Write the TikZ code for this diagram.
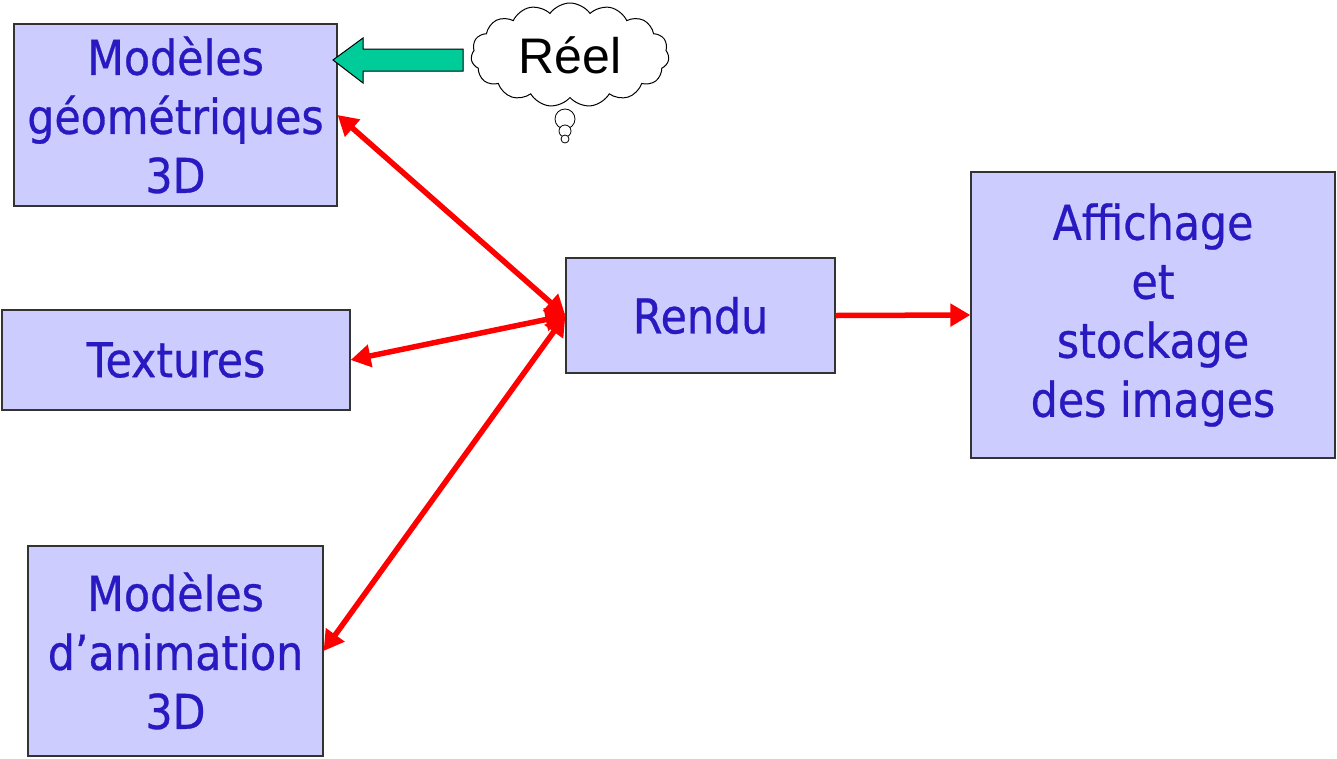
\documentclass[tikz,border=0pt]{standalone}
\usepackage{fontspec}
\setmainfont{DejaVu Sans}
\newfontfamily\boxfont[FakeStretch=0.89,FakeBold=0.6]{DejaVu Sans}
\newfontfamily\cloudfont{Liberation Sans}
\usetikzlibrary{arrows.meta,shapes.symbols}
\definecolor{boxfill}{RGB}{204,204,255}
\definecolor{boxtext}{RGB}{40,26,192}
\definecolor{greenarrow}{RGB}{0,204,153}
\tikzset{
  blk/.style={draw=black!80, line width=1.2pt, fill=boxfill, text=boxtext, inner sep=0pt,
    align=center, font=\boxfont\fontsize{48}{59}\selectfont},
  redline/.style={draw=red, line width=5.5pt},
}
\begin{document}
\begin{tikzpicture}[x=1pt,y=-1pt]
\useasboundingbox (0,0) rectangle (1337,758);
\node[blk, minimum width=323pt, minimum height=182pt] (geo) at (175.5,115) {Modèles\\géométriques\\3D};
\node[blk, minimum width=348pt, minimum height=100pt] (tex) at (176,360) {Textures};
\node[blk, minimum width=295pt, minimum height=210pt] (anim) at (175.5,651) {Modèles\\d’animation\\3D};
\node[blk, minimum width=269pt, minimum height=115pt] (rendu) at (700.5,315.5) {Rendu};
\node[blk, minimum width=364pt, minimum height=286pt] (aff) at (1153,315) {Affichage\\et\\stockage\\des images};
% cloud
\node[cloud, cloud puffs=15, cloud puff arc=110, aspect=2.1, draw=black, line width=1pt, fill=white,
  minimum width=198pt, minimum height=104pt, inner sep=0pt,
  font=\cloudfont\fontsize{50}{60}\selectfont] (reel) at (570,55) {Réel};
\draw[black, line width=0.8pt, fill=white] (565,119) circle (10);
\draw[black, line width=0.8pt, fill=white] (565,131) circle (6);
\draw[black, line width=0.8pt, fill=white] (565,139) circle (4);
% green block arrow
\draw[black, line width=1pt, fill=greenarrow, line join=miter]
  (463,49) -- (363,49) -- (363,38) -- (333,60) -- (363,83) -- (363,71) -- (463,71) -- cycle;
% red connectors
\draw[redline, {Triangle[length=20pt,width=22pt]}-{Triangle[length=20pt,width=22pt]}] (geo.east) -- (rendu.west);
\draw[redline, {Triangle[length=20pt,width=22pt]}-{Triangle[length=20pt,width=22pt]}] (tex.east) -- (rendu.west);
\draw[redline, {Triangle[length=20pt,width=22pt]}-{Triangle[length=20pt,width=22pt]}] (anim.east) -- (rendu.west);
\draw[redline, -{Triangle[length=20pt,width=22pt]}] (rendu.east) -- (aff.west);
\end{tikzpicture}
\end{document}
